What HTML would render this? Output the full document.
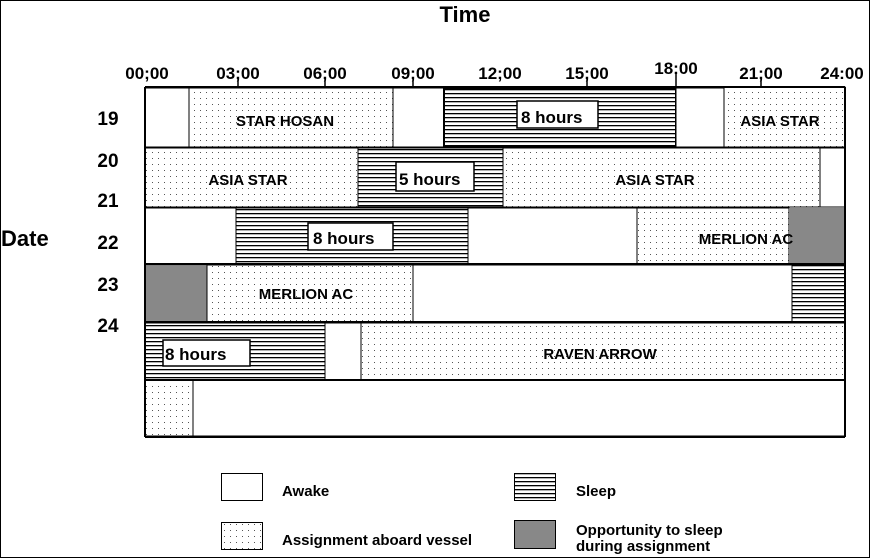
<!DOCTYPE html>
<html><head><style>body{margin:0;background:#fff}svg{display:block}text{font-family:"Liberation Sans",Arial,sans-serif;font-weight:bold;fill:#000}</style></head><body>
<svg width="870" height="558" viewBox="0 0 870 558" xmlns="http://www.w3.org/2000/svg">
<defs>
<pattern id="dot" width="6" height="6" patternUnits="userSpaceOnUse"><rect width="6" height="6" fill="#fff"/><rect x="2" y="2" width="1" height="1" fill="#555"/></pattern>
<pattern id="hat" width="4" height="4" patternUnits="userSpaceOnUse"><rect width="4" height="4" fill="#fff"/><rect y="1" width="4" height="1.3" fill="#000"/></pattern>
</defs>
<rect x="0.5" y="0.5" width="869" height="557" fill="#fff" stroke="#000"/>
<text x="465" y="22" font-size="22" text-anchor="middle">Time</text>
<g font-size="17" text-anchor="middle">
<text x="147" y="79">00;00</text><text x="238" y="79">03;00</text><text x="325" y="79">06;00</text><text x="413" y="79">09;00</text><text x="500" y="79">12;00</text><text x="587" y="79">15;00</text><text x="676" y="74">18:00</text><text x="761" y="79">21;00</text><text x="842" y="79">24:00</text>
</g>
<g stroke="#000" stroke-width="1.5">
<line x1="238" y1="78" x2="238" y2="87"/><line x1="325" y1="78" x2="325" y2="87"/><line x1="413" y1="78" x2="413" y2="87"/><line x1="587" y1="78" x2="587" y2="87"/><line x1="676" y1="74" x2="676" y2="87"/><line x1="761" y1="78" x2="761" y2="87"/>
</g>
<g stroke="#000" stroke-width="1">
<rect x="145" y="88" width="44" height="59" fill="#fff"/>
<rect x="189" y="88" width="204" height="59" fill="url(#dot)"/>
<rect x="393" y="88" width="51" height="59" fill="#fff"/>
<rect x="444" y="88" width="232" height="59" fill="url(#hat)" stroke-width="2"/>
<rect x="676" y="88" width="48" height="59" fill="#fff"/>
<rect x="724" y="87" width="121" height="60" fill="url(#dot)"/>
<rect x="145" y="148" width="213" height="59" fill="url(#dot)"/>
<rect x="358" y="148" width="145" height="59" fill="url(#hat)"/>
<rect x="503" y="148" width="317" height="59" fill="url(#dot)"/>
<rect x="820" y="148" width="25" height="59" fill="#fff"/>
<rect x="145" y="208" width="91" height="56" fill="#fff"/>
<rect x="236" y="208" width="232" height="56" fill="url(#hat)"/>
<rect x="468" y="208" width="169" height="56" fill="#fff"/>
<rect x="637" y="208" width="152" height="56" fill="url(#dot)"/>
<rect x="789" y="208" width="56" height="56" fill="#888" stroke="none"/>
<rect x="145" y="265" width="62" height="57" fill="url(#dot)"/>
<rect x="146" y="266" width="61" height="56" fill="#888" stroke="none"/>
<rect x="207" y="265" width="206" height="57" fill="url(#dot)"/>
<rect x="413" y="265" width="379" height="57" fill="#fff"/>
<rect x="792" y="265" width="53" height="57" fill="url(#hat)"/>
<rect x="145" y="323" width="180" height="57" fill="url(#hat)"/>
<rect x="325" y="323" width="36" height="57" fill="#fff"/>
<rect x="361" y="323" width="484" height="57" fill="url(#dot)"/>
<rect x="145" y="380" width="48" height="56" fill="url(#dot)"/>
<rect x="193" y="380" width="652" height="56" fill="#fff"/>
</g>
<g stroke="#000" stroke-width="2" fill="none">
<line x1="145" y1="87" x2="845" y2="87"/>
<line x1="145" y1="87" x2="145" y2="437"/>
<line x1="845" y1="87" x2="845" y2="437"/>
<line x1="145" y1="437" x2="845" y2="437"/>
<line x1="145" y1="322" x2="845" y2="322"/>
<line x1="145" y1="380" x2="845" y2="380"/>
<line x1="145" y1="264" x2="845" y2="264"/>
</g>
<g fill="#fff" stroke="#000" stroke-width="1.5">
<rect x="517" y="101" width="81" height="27"/>
<rect x="396" y="162" width="78" height="29"/>
<rect x="308" y="223" width="85" height="27"/>
<rect x="163" y="340" width="87" height="26"/>
</g>
<g font-size="17">
<text x="521" y="123">8 hours</text>
<text x="399" y="185">5 hours</text>
<text x="313" y="244">8 hours</text>
<text x="165" y="360">8 hours</text>
</g>
<g font-size="15" text-anchor="middle">
<text x="285" y="126">STAR HOSAN</text>
<text x="780" y="126">ASIA STAR</text>
<text x="248" y="185">ASIA STAR</text>
<text x="655" y="185">ASIA STAR</text>
<text x="746" y="244">MERLION AC</text>
<text x="306" y="299">MERLION AC</text>
<text x="600" y="359">RAVEN ARROW</text>
</g>
<g font-size="19" text-anchor="middle">
<text x="108" y="125">19</text>
<text x="108" y="167">20</text>
<text x="108" y="207">21</text>
<text x="108" y="249">22</text>
<text x="108" y="291">23</text>
<text x="108" y="332">24</text>
</g>
<text x="1" y="246" font-size="22">Date</text>
<g stroke="#000" stroke-width="1">
<rect x="221.5" y="473.5" width="41" height="27" fill="#fff"/>
<rect x="221.5" y="522.5" width="41" height="27" fill="url(#dot)"/>
<rect x="514.5" y="473.5" width="41" height="27" fill="url(#hat)"/>
<rect x="514.5" y="520.5" width="41" height="28" fill="#888"/>
</g>
<g font-size="15">
<text x="282" y="496">Awake</text>
<text x="282" y="545">Assignment aboard vessel</text>
<text x="576" y="496">Sleep</text>
<text x="576" y="535">Opportunity to sleep</text>
<text x="576" y="551">during assignment</text>
</g>
</svg>
</body></html>
